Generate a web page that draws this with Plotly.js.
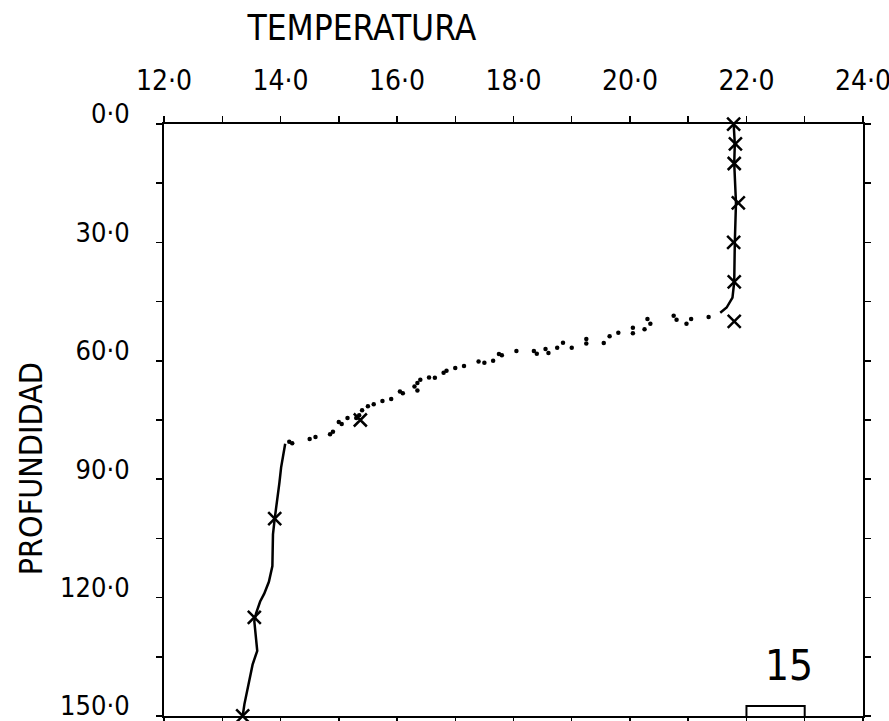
<!DOCTYPE html>
<html>
<head>
<meta charset="utf-8">
<script src="https://cdn.plot.ly/plotly-3.0.1.min.js"></script>
<style>html,body{margin:0;padding:0;background:#fff;}#chart{width:889px;height:721px;}</style>
</head>
<body>
<div id="chart"></div>
<script>
// Upper mixed layer profile (temperature, depth)
const upperTemp  = [21.78, 21.80, 21.79, 21.82, 21.80, 21.79, 21.76, 21.66, 21.55];
const upperDepth = [0, 5, 10, 20, 30, 40, 44, 46.5, 47.8];

// Thermocline scattered samples
const thermoTemp  = [21.35, 21.05, 20.97, 20.8, 20.75, 20.35, 20.3, 20.25, 20.05, 20.05, 19.8, 19.65, 19.55, 19.25, 19.25, 19.0, 18.85, 18.75, 18.6, 18.55, 18.35, 18.4, 18.05, 17.8, 17.75, 17.65, 17.5, 17.4, 17.15, 17.0, 16.85, 16.8, 16.65, 16.55, 16.4, 16.35, 16.3, 16.35, 16.1, 16.05, 15.9, 15.75, 15.6, 15.5, 15.4, 15.35, 15.3, 15.15, 15.05, 15.0, 14.85, 14.9, 14.6, 14.5, 14.2, 14.15];
const thermoDepth = [48.9, 49.4, 50.6, 49.6, 48.6, 50.6, 49.4, 52, 51.6, 53, 52.9, 53.8, 55.5, 54.5, 55.6, 56.7, 55.4, 56.7, 58, 57, 57.5, 58.2, 57.5, 58.6, 58.3, 60, 60.5, 60.2, 61.3, 61.8, 62.5, 63, 64.3, 64.2, 64.8, 65.6, 66.5, 67.5, 68.2, 67.8, 69.7, 70.2, 71, 71.5, 72.5, 73.8, 74.5, 74.5, 76, 75.5, 78.6, 78, 79.3, 79.8, 80.9, 80.5];

// Deep layer profile
const deepTemp  = [14.08, 14.04, 14.01, 13.98, 13.93, 13.9, 13.87, 13.86, 13.86, 13.8, 13.72, 13.65, 13.58, 13.55, 13.57, 13.6, 13.52, 13.47, 13.42, 13.38, 13.35];
const deepDepth = [81, 84, 87, 91, 96, 100, 104, 108, 112, 116, 119, 121, 124, 126, 130, 133.5, 137, 140.5, 144, 147, 150];

// Bottle samples (X markers)
const bottleTemp  = [21.78, 21.81, 21.79, 21.86, 21.78, 21.79, 21.79, 15.37, 13.9, 13.55, 13.35];
const bottleDepth = [0, 5, 10, 20, 30, 40, 50, 75, 100, 125, 150];

// Tick labels
const xTickVals = [12, 14, 16, 18, 20, 22, 24];
const xTickText = ["12·0", "14·0", "16·0", "18·0", "20·0", "22·0", "24·0"];
const yTickVals = [0, 30, 60, 90, 120, 150];
const yTickText = ["0·0", "30·0", "60·0", "90·0", "120·0", "150·0"];

const titleText = "TEMPERATURA";
const yTitleText = "PROFUNDIDAD";
const stationLabel = "15";

const FONT = '"DejaVu Sans Condensed", "Liberation Sans Narrow", "DejaVu Sans", sans-serif';

const traces = [
  {x: upperTemp, y: upperDepth, mode: 'lines', line: {color: '#000', width: 2.5}, hoverinfo: 'skip'},
  {x: thermoTemp, y: thermoDepth, mode: 'markers', marker: {color: '#000', size: 4.5}, hoverinfo: 'skip'},
  {x: deepTemp, y: deepDepth, mode: 'lines', line: {color: '#000', width: 2.5}, hoverinfo: 'skip'},
  {x: bottleTemp, y: bottleDepth, mode: 'markers', marker: {symbol: 'x-thin', size: 13, color: '#000', line: {color: '#000', width: 2.5}}, hoverinfo: 'skip', cliponaxis: false}
];

const layout = {
  width: 889, height: 721,
  margin: {l: 164, r: 26, t: 124, b: 5},
  paper_bgcolor: '#fff', plot_bgcolor: '#fff',
  showlegend: false,
  font: {family: FONT, color: '#000', size: 22},
  title: {text: titleText, font: {family: FONT, size: 35, color: '#000'},
          xref: 'container', x: 0.407, xanchor: 'center', yref: 'container', y: 0.962, yanchor: 'middle'},
  xaxis: {
    side: 'top', range: [11.999, 24.001], tickvals: xTickVals, ticktext: xTickText,
    showline: true, linecolor: '#000', linewidth: 2, mirror: 'ticks',
    ticks: 'outside', ticklen: 6, tickwidth: 1.5, tickcolor: '#000',
    minor: {dtick: 1, tick0: 12, ticks: 'outside', ticklen: 6, tickwidth: 1.5, tickcolor: '#000', showgrid: false},
    showgrid: false, zeroline: false, ticklabeloverflow: 'allow',
    ticklabelstandoff: 15,
    tickfont: {family: FONT, size: 28, color: '#000'}
  },
  yaxis: {
    range: [150.01, -0.01], tickvals: yTickVals, ticktext: yTickText,
    showline: true, linecolor: '#000', linewidth: 2, mirror: 'ticks',
    ticks: 'outside', ticklen: 6, tickwidth: 1.5, tickcolor: '#000',
    minor: {dtick: 15, tick0: 0, ticks: 'outside', ticklen: 6, tickwidth: 1.5, tickcolor: '#000', showgrid: false},
    showgrid: false, zeroline: false, ticklabeloverflow: 'allow',
    ticklabelstandoff: 21, ticklabelshift: 10,
    tickfont: {family: FONT, size: 27, color: '#000'}
  },
  shapes: [
    {type: 'path', xref: 'x', yref: 'y', path: 'M 22,150 L 22,147.5 L 23,147.5 L 23,150', line: {color: '#000', width: 2}}
  ],
  annotations: [
    {text: yTitleText, xref: 'paper', yref: 'paper', x: -0.19, y: 0.417, textangle: -90, showarrow: false,
     font: {family: FONT, size: 32, color: '#000'}, xanchor: 'center', yanchor: 'middle'},
    {text: stationLabel, xref: 'paper', yref: 'paper', x: 0.894, y: 0.085, showarrow: false,
     font: {family: FONT, size: 42, color: '#000'}, xanchor: 'center', yanchor: 'middle'}
  ]
};

Plotly.newPlot('chart', traces, layout, {staticPlot: true, displayModeBar: false});
</script>
</body>
</html>
